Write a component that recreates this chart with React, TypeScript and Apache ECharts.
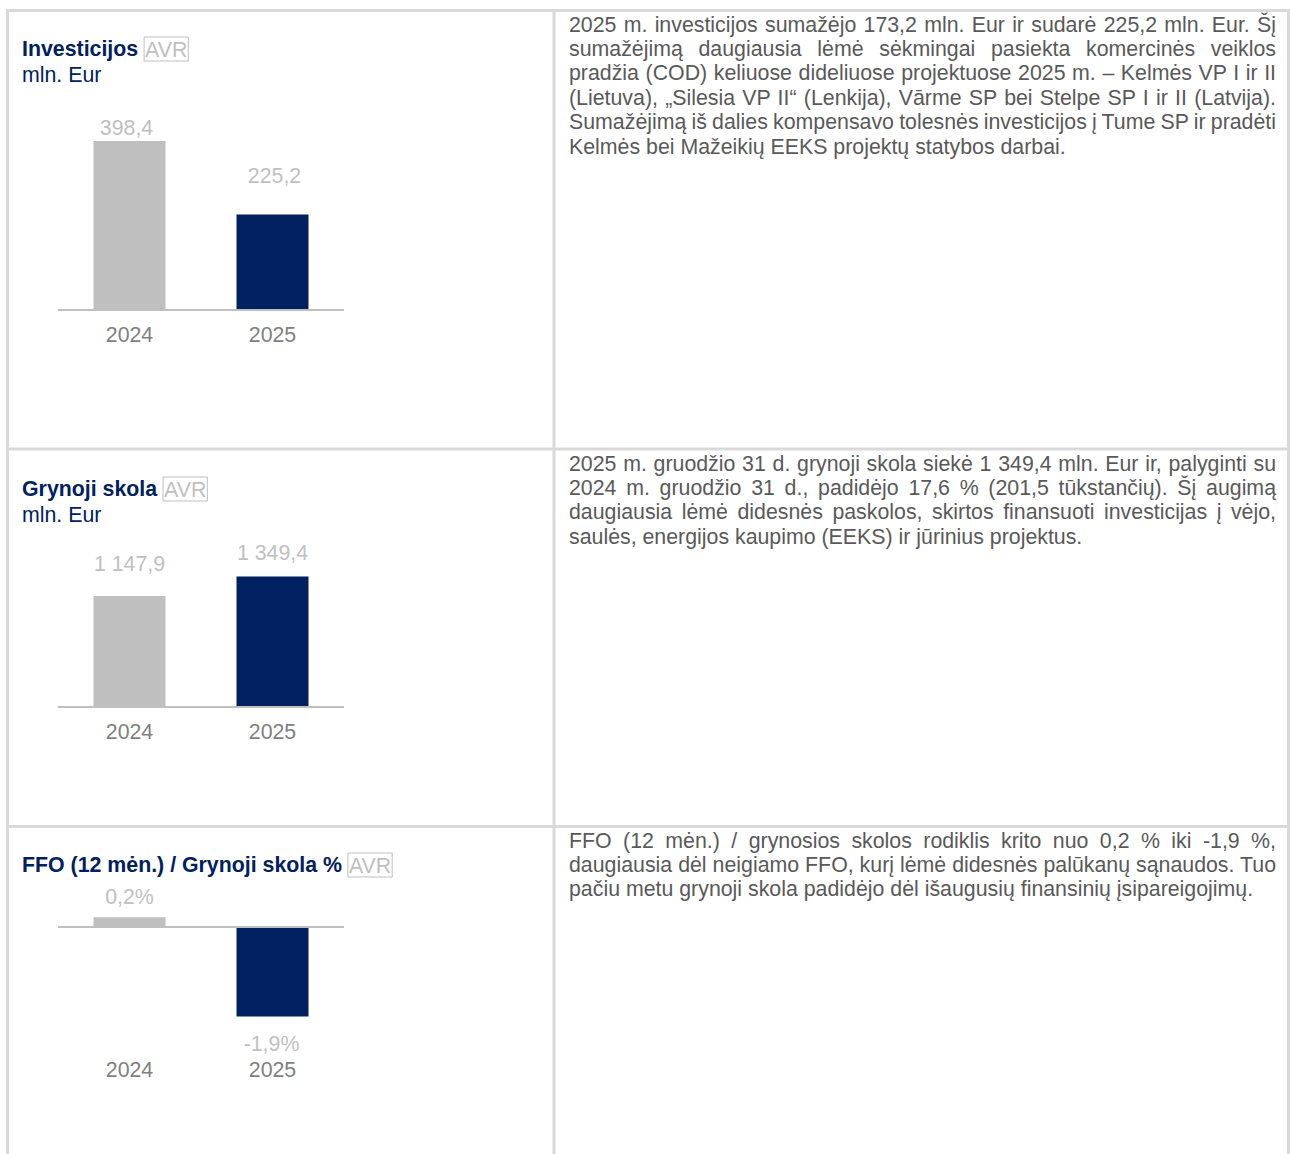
import React, { useEffect, useRef } from "react";
import * as echarts from "echarts";

// ---------- data ----------
const years = ["2024", "2025"];
const investicijos = [398.4, 225.2];
const grynojiSkola = [1147.9, 1349.4];
const ffoGrynojiSkola = [0.2, -1.9];

const chartTitles = ["Investicijos", "Grynoji skola", "FFO (12 mėn.) / Grynoji skola %"];
const chartUnits = ["mln. Eur", "mln. Eur", ""];
const valueSuffixes = ["", "", "%"];
const badge = "AVR";

const paragraph1 = [
  "2025 m. investicijos sumažėjo 173,2 mln. Eur ir sudarė 225,2 mln. Eur. Šį",
  "sumažėjimą daugiausia lėmė sėkmingai pasiekta komercinės veiklos",
  "pradžia (COD) keliuose dideliuose projektuose 2025 m. – Kelmės VP I ir II",
  "(Lietuva), „Silesia VP II“ (Lenkija), Vārme SP bei Stelpe SP I ir II (Latvija).",
  "Sumažėjimą iš dalies kompensavo tolesnės investicijos į Tume SP ir pradėti",
  "Kelmės bei Mažeikių EEKS projektų statybos darbai.",
];
const paragraph2 = [
  "2025 m. gruodžio 31 d. grynoji skola siekė 1 349,4 mln. Eur ir, palyginti su",
  "2024 m. gruodžio 31 d., padidėjo 17,6 % (201,5 tūkstančių). Šį augimą",
  "daugiausia lėmė didesnės paskolos, skirtos finansuoti investicijas į vėjo,",
  "saulės, energijos kaupimo (EEKS) ir jūrinius projektus.",
];
const paragraph3 = [
  "FFO (12 mėn.) / grynosios skolos rodiklis krito nuo 0,2 % iki -1,9 %,",
  "daugiausia dėl neigiamo FFO, kurį lėmė didesnės palūkanų sąnaudos. Tuo",
  "pačiu metu grynoji skola padidėjo dėl išaugusių finansinių įsipareigojimų.",
];

// ---------- styles / layout ----------
const FONT = "'Liberation Sans', Arial, Helvetica, sans-serif";
const NAVY = "#002060";
const LIGHT = "#bfbfbf";
const AXIS_TEXT = "#7f7f7f";
const BORDER = "#d9d9d9";
const PARA = "#595959";
const FS = 21.33;
const barColors = [LIGHT, NAVY];

const panels = [
  { values: investicijos, top: 98, height: 212, min: 0, max: 500, titleY: 49, unitY: 75, labelDistance: [3, 28], labelDx: [-3, 2] },
  { values: grynojiSkola, top: 562, height: 145, min: 0, max: 1500, titleY: 489, unitY: 515, labelDistance: [22, 13], labelDx: [0, 0] },
  { values: ffoGrynojiSkola, top: 903, height: 142, min: -2.5, max: 0.5, titleY: 865, unitY: 0, labelDistance: [10, 17], labelDx: [0, -1] },
];

const paragraphs = [
  { lines: paragraph1, top: 12.5 },
  { lines: paragraph2, top: 451.5 },
  { lines: paragraph3, top: 828.5 },
];

const fmt = (v: number, suffix: string) => {
  const parts = Math.abs(v).toFixed(1).split(".");
  const intPart = parts[0].replace(/\B(?=(\d{3})+(?!\d))/g, " ");
  return (v < 0 ? "-" : "") + intPart + "," + parts[1] + suffix;
};

function buildOption() {
  const borderRects = [
    { x: 6, y: 9, width: 1284, height: 3 },
    { x: 6, y: 447.5, width: 1284, height: 3 },
    { x: 6, y: 825, width: 1284, height: 3 },
    { x: 6, y: 9, width: 3, height: 1145 },
    { x: 552.5, y: 9, width: 3, height: 1145 },
    { x: 1287, y: 9, width: 3, height: 1145 },
  ].map((s) => ({ type: "rect", shape: s, style: { fill: BORDER }, silent: true }));

  const titleTexts: any[] = [];
  panels.forEach((p, i) => {
    titleTexts.push({
      type: "text",
      x: 22,
      y: p.titleY,
      silent: true,
      style: {
        text: `{t|${chartTitles[i]}} {a|${badge}}`,
        fontSize: FS,
        fontFamily: FONT,
        fill: NAVY,
        verticalAlign: "middle",
        rich: {
          t: { fontWeight: "bold", fill: NAVY, fontSize: FS, fontFamily: FONT },
          a: {
            fill: LIGHT,
            fontSize: FS,
            fontFamily: FONT,
            borderColor: LIGHT,
            borderWidth: 1,
            padding: [2, 1, 1, 1],
          },
        },
      },
    });
    if (chartUnits[i]) {
      titleTexts.push({
        type: "text",
        x: 22,
        y: p.unitY,
        silent: true,
        style: {
          text: chartUnits[i],
          fontSize: FS,
          fontFamily: FONT,
          fill: NAVY,
          verticalAlign: "middle",
        },
      });
    }
  });

  return {
    animation: false,
    backgroundColor: "#ffffff",
    grid: panels.map((p) => ({ left: 58, width: 286, top: p.top, height: p.height, containLabel: false })),
    xAxis: panels.map((p, i) => ({
      type: "category",
      gridIndex: i,
      data: years,
      position: "bottom",
      axisLine: { show: false, onZero: false },
      axisTick: { show: false },
      splitLine: { show: false },
      axisLabel: { color: AXIS_TEXT, fontSize: FS, fontFamily: FONT, margin: 14 },
    })),
    yAxis: panels.map((p, i) => ({
      type: "value",
      gridIndex: i,
      min: p.min,
      max: p.max,
      show: false,
      splitLine: { show: false },
    })),
    series: panels.map((p, i) => ({
      type: "bar",
      xAxisIndex: i,
      yAxisIndex: i,
      barWidth: 72,
      data: p.values.map((v, j) => ({
        value: v,
        itemStyle: { color: barColors[j] },
        label: {
          position: v >= 0 ? "top" : "bottom",
          distance: p.labelDistance[j],
          offset: [p.labelDx[j], 0],
        },
      })),
      label: {
        show: true,
        color: LIGHT,
        fontSize: FS,
        fontFamily: FONT,
        formatter: (prm: any) => fmt(prm.value, valueSuffixes[i]),
      },
      markLine: {
        silent: true,
        symbol: "none",
        label: { show: false },
        lineStyle: { color: LIGHT, width: 2, type: "solid" },
        emphasis: { disabled: true },
        data: [{ yAxis: 0 }],
      },
    })),
    graphic: [...borderRects, ...titleTexts],
  };
}

export default function App() {
  const ref = useRef<HTMLDivElement>(null);
  useEffect(() => {
    document.body.style.margin = "0";
    const chart = echarts.init(ref.current!, null, { renderer: "svg" });
    chart.setOption(buildOption() as any);
    return () => chart.dispose();
  }, []);

  return (
    <div
      style={{
        position: "absolute",
        left: 0,
        top: 0,
        width: 1290,
        height: 1154,
        overflow: "hidden",
        background: "#ffffff",
      }}
    >
      <div ref={ref} style={{ position: "absolute", left: 0, top: 0, width: 1290, height: 1154 }} />
      {paragraphs.map((p, i) => (
        <div
          key={i}
          style={{
            position: "absolute",
            left: 569,
            top: p.top,
            width: 707,
            fontFamily: FONT,
            fontSize: FS,
            lineHeight: "24.4px",
            color: PARA,
          }}
        >
          {p.lines.map((line, j) => {
            const last = j === p.lines.length - 1;
            return (
              <div
                key={j}
                style={{
                  whiteSpace: "nowrap",
                  wordSpacing: last ? "0px" : "-1px",
                  textAlign: last ? "left" : "justify",
                  textAlignLast: last ? "left" : "justify",
                }}
              >
                {line}
              </div>
            );
          })}
        </div>
      ))}
    </div>
  );
}
